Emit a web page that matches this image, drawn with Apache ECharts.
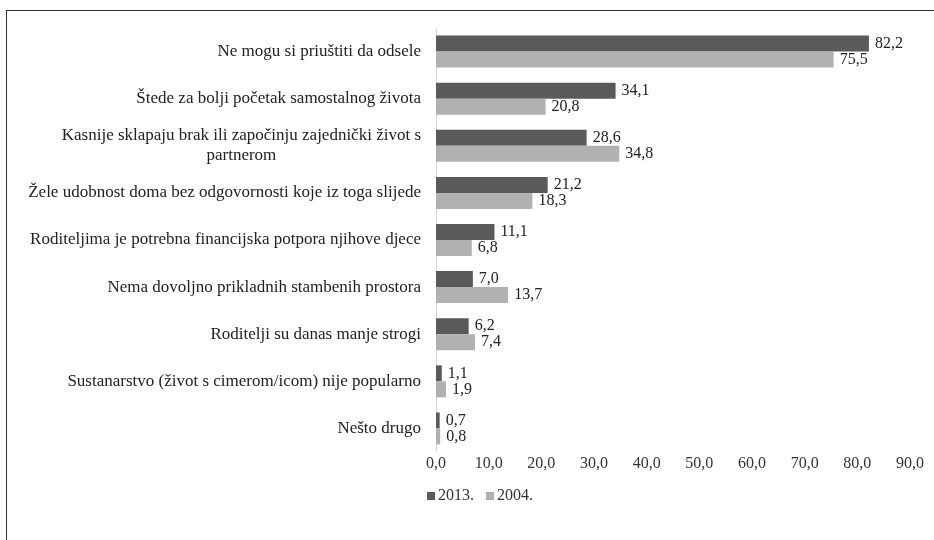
<!DOCTYPE html>
<html>
<head>
<meta charset="utf-8">
<script src="https://cdn.jsdelivr.net/npm/echarts@6/dist/echarts.min.js"></script>
<style>
	html, body { margin: 0; padding: 0; background: #fff; }
	.frame {
		position: absolute;
		left: 6px;
		top: 10px;
		width: 940px;
		height: 540px;
		border-left: 1px solid #333;
		border-top: 1px solid #333;
	}
	#chart { position: absolute; left: 0; top: 0; width: 934px; height: 540px; }
</style>
</head>
<body>
<div class="frame"></div>
<div id="chart"></div>
<script>
	const categories = [
		'Ne mogu si priuštiti da odsele',
		'Štede za bolji početak samostalnog života',
		'Kasnije sklapaju brak ili započinju zajednički život s\n{c|partnerom}',
		'Žele udobnost doma bez odgovornosti koje iz toga slijede',
		'Roditeljima je potrebna financijska potpora njihove djece',
		'Nema dovoljno prikladnih stambenih prostora',
		'Roditelji su danas manje strogi',
		'Sustanarstvo (život s cimerom/icom) nije popularno',
		'Nešto drugo'
	]
	const values2013 = [82.2, 34.1, 28.6, 21.2, 11.1, 7.0, 6.2, 1.1, 0.7]
	const values2004 = [75.5, 20.8, 34.8, 18.3, 6.8, 13.7, 7.4, 1.9, 0.8]
	const seriesNames = ['2013.', '2004.']

	const fontFamily = '"Liberation Serif", "Times New Roman", serif'
	// decimalni zarez
	const fmt = (v) => v.toFixed(1).replace('.', ',')

	const chart = echarts.init(document.getElementById('chart'))

	const labelStyle = {
		show: true,
		position: 'right',
		distance: 6,
		fontFamily: fontFamily,
		fontSize: 16,
		color: '#222',
		formatter: (p) => fmt(p.value)
	}

	const option = {
		animation: false,
		textStyle: { fontFamily: fontFamily },
		grid: {
			left: 436,
			right: 24,
			top: 28,
			bottom: 88
		},
		legend: {
			data: seriesNames,
			left: 422,
			top: 483,
			itemWidth: 8,
			itemHeight: 8,
			itemGap: 12,
			icon: 'rect',
			textStyle: { fontFamily: fontFamily, fontSize: 16, color: '#333', padding: [0, 0, 0, -2] }
		},
		xAxis: {
			type: 'value',
			min: 0,
			max: 90,
			interval: 10,
			axisLine: { show: false },
			axisTick: { show: false },
			splitLine: { show: false },
			axisLabel: {
				margin: 4,
				fontFamily: fontFamily,
				fontSize: 16,
				color: '#333',
				formatter: (v) => fmt(v)
			}
		},
		yAxis: {
			type: 'category',
			inverse: true,
			data: categories,
			axisLine: { show: true, lineStyle: { color: '#d4d4d4', width: 1 } },
			axisTick: { show: false },
			axisLabel: {
				margin: 15,
				fontFamily: fontFamily,
				fontSize: 17,
				color: '#222',
				lineHeight: 20,
				rich: {
					c: { align: 'center', fontFamily: fontFamily, fontSize: 17, color: '#222', lineHeight: 20 }
				}
			}
		},
		series: [
			{
				name: seriesNames[0],
				type: 'bar',
				data: values2013,
				barWidth: 16,
				barGap: '0%',
				itemStyle: { color: '#5a5a5c' },
				label: labelStyle
			},
			{
				name: seriesNames[1],
				type: 'bar',
				data: values2004,
				barWidth: 16,
				barGap: '0%',
				itemStyle: { color: '#b1b1b3' },
				label: labelStyle
			}
		]
	}

	chart.setOption(option)
</script>
</body>
</html>
